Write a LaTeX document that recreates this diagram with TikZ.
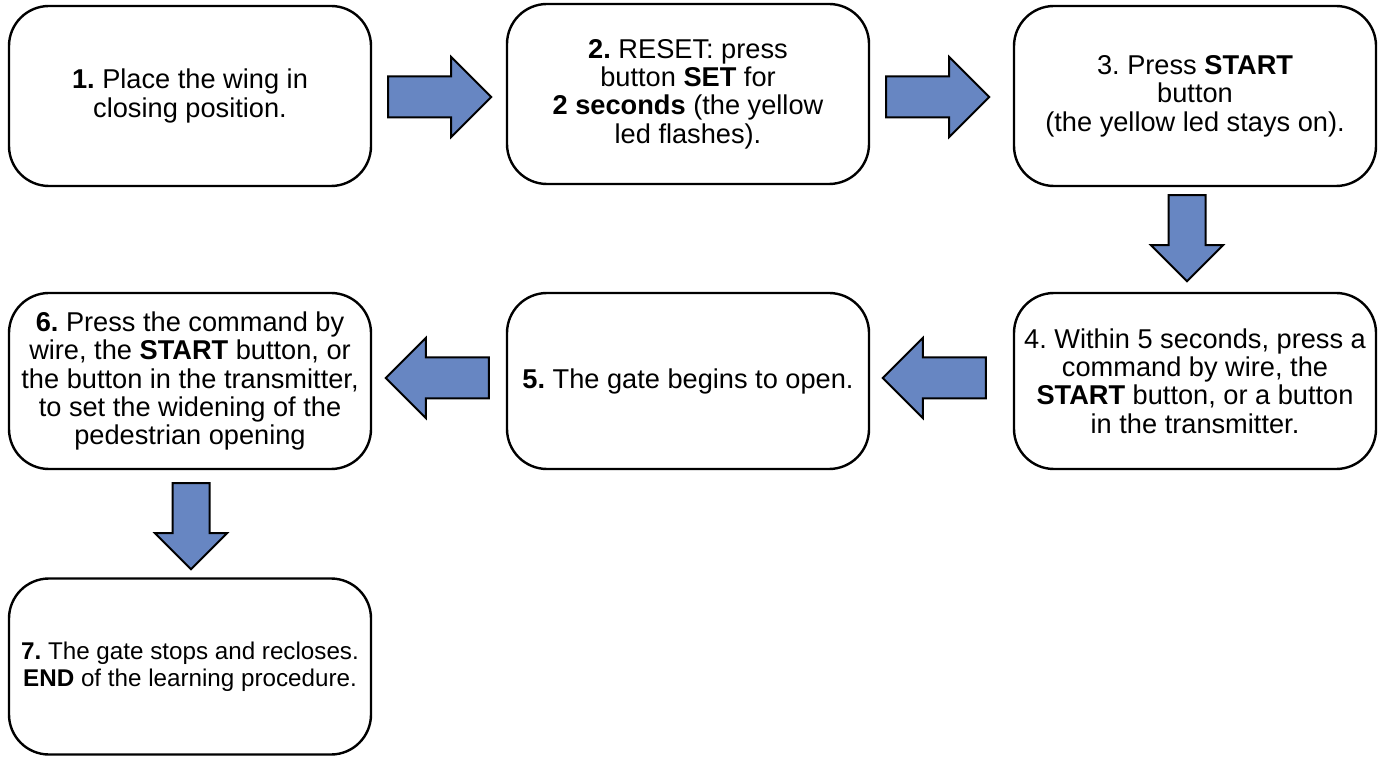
\documentclass[tikz,border=0pt]{standalone}
\usepackage{fontspec}
\setmainfont{Liberation Sans}
\usetikzlibrary{shapes.arrows,calc}
\definecolor{stepblue}{RGB}{103,134,194}
\frenchspacing

\begin{document}
\begin{tikzpicture}[x=0.5pt, y=-0.5pt,
  box/.style={draw, line width=1.2pt, rounded corners=20pt, minimum width=181pt, minimum height=88pt, align=center, inner sep=0pt, font=\fontsize{13.6}{14.2}\selectfont},
  blockarrow/.style={single arrow, draw, fill=stepblue, line width=1pt, anchor=tail},
  harrow/.style={blockarrow, minimum height=51.5pt, inner xsep=0pt, inner ysep=9.75pt, single arrow head extend=9.75pt},
  varrow/.style={blockarrow, shape border rotate=270, minimum height=43pt, inner sep=8.75pt, single arrow head extend=8.75pt}]
	    \useasboundingbox (0,0) rectangle (1384,758);
	    \node[box, minimum height=90pt] (1) at (190, 96)  {\textbf{1.} Place the wing in\\closing position.};
	    \node[box, minimum height=90pt] (2) at (688, 94)  {\textbf{2.} RESET: press\\button \textbf{SET} for\\\textbf{2 seconds} (the yellow\\led flashes).};
	    \node[box, minimum height=90pt] (3) at (1195, 96) {3. Press \textbf{START}\\button\\(the yellow led stays on).};
	    \node[box] (4) at (1195, 381) {4. Within 5 seconds, press a\\command by wire, the\\\textbf{START} button, or a button\\in the transmitter.};
	    \node[box] (5) at (688, 381)  {\textbf{5.} The gate begins to open.};
	    \node[box] (6) at (190, 381)  {\textbf{6.} Press the command by\\wire, the \textbf{START} button, or\\the button in the transmitter,\\to set the widening of the\\pedestrian opening};
	    \node[box, font=\fontsize{12.1}{13.4}\selectfont] (7) at (190, 666.5) {\textbf{7.} The gate stops and recloses.\\\textbf{END} of the learning procedure.};
	    \node[harrow] (12) at ($(1.east)+(15,1)$) {};
	    \node[harrow] (23) at ($(2.east)+(15,3)$) {};
	    \node[varrow] (34) at ($(3.south)+(-8,7)$) {};
	    \node[harrow, shape border rotate=180] (45) at ($(4.west)+(-26,-3)$) {};
	    \node[harrow, shape border rotate=180] (56) at ($(5.west)+(-16,-3)$) {};
	    \node[varrow] (67) at ($(6.south)+(1,12)$) {};
	\end{tikzpicture}
\end{document}
